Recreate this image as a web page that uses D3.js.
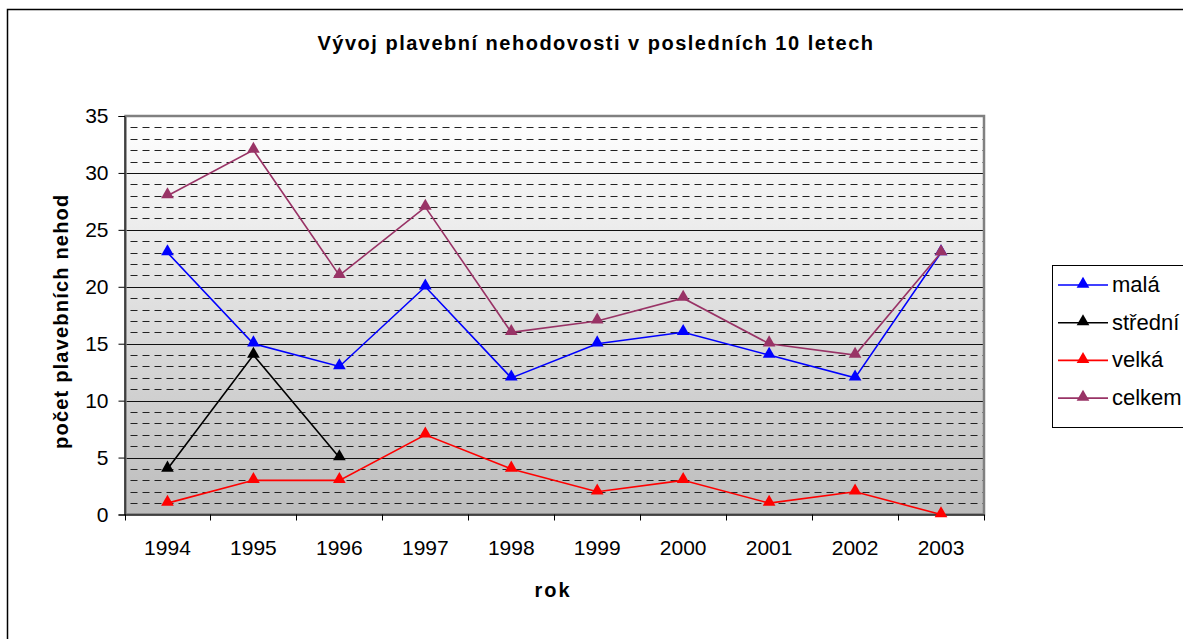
<!DOCTYPE html>
<html><head><meta charset="utf-8">
<script src="https://cdn.jsdelivr.net/npm/d3@7"></script>
<style>body{margin:0;background:#fff;} svg{display:block;font-family:"Liberation Sans",Arial,sans-serif;}</style>
</head><body>
<svg id="c" width="1183" height="639"></svg>
<script>
const years = ["1994","1995","1996","1997","1998","1999","2000","2001","2002","2003"];
const mala = [23,15,13,20,12,15,16,14,12,23];
const stredni = [4,14,5,null,null,null,null,null,null,null];
const velka = [1,3,3,7,4,2,3,1,2,0];
const celkem = [28,32,21,27,16,17,19,15,14,23];
const seriesNames = ["malá","střední","velká","celkem"];
const seriesColors = ["#0000ff","#000000","#ff0000","#993366"];
const yTicks = [0,5,10,15,20,25,30,35];
const title = "Vývoj plavební nehodovosti v posledních 10 letech";
const xTitle = "rok";
const yTitle = "počet plavebních nehod";

const series = [mala, stredni, velka, celkem];
const svg = d3.select("#c");
const L = 124.5, R = 984, T = 116, B = 514.5;

// outer border
svg.append("rect").attr("x",7.5).attr("y",9.5).attr("width",1300).attr("height",800)
  .attr("fill","#fff").attr("stroke","#000").attr("stroke-width",1.5);

const x = d3.scaleBand().domain(years).range([L,R]);
const y = d3.scaleLinear().domain([0,35]).range([B,T]);

const defs = svg.append("defs");
const g = defs.append("linearGradient").attr("id","bg").attr("x1",0).attr("y1",0).attr("x2",0).attr("y2",1);
g.append("stop").attr("offset","0%").attr("stop-color","#ffffff");
g.append("stop").attr("offset","100%").attr("stop-color","#bcbcbc");

svg.append("rect").attr("x",L).attr("y",T).attr("width",R-L).attr("height",B-T).attr("fill","url(#bg)");

// minor gridlines
const minor = d3.range(1,35).filter(v=>v%5!==0);
svg.append("g").selectAll("line").data(minor).join("line")
  .attr("x1",L+6).attr("x2",R).attr("y1",d=>Math.round(y(d))+0.5).attr("y2",d=>Math.round(y(d))+0.5)
  .attr("stroke","#222").attr("stroke-width",1).attr("stroke-dasharray","7,5");
// major gridlines
svg.append("g").selectAll("line").data(yTicks.filter(v=>v>0&&v<35)).join("line")
  .attr("x1",L).attr("x2",R).attr("y1",d=>Math.round(y(d))+0.5).attr("y2",d=>Math.round(y(d))+0.5)
  .attr("stroke","#111").attr("stroke-width",1);

// plot border (gray)
svg.append("rect").attr("x",L+1).attr("y",T).attr("width",R-L-1).attr("height",B-T)
  .attr("fill","none").attr("stroke","#808080").attr("stroke-width",2.5);

// axes
const yAxis = d3.axisLeft(y).tickValues(yTicks).tickSize(6).tickPadding(10);
const ya = svg.append("g").attr("transform",`translate(${L},0)`).call(yAxis);
const xAxis = d3.axisBottom(x).tickSize(0).tickPadding(26);
const xa = svg.append("g").attr("transform",`translate(0,${B})`).call(xAxis);
// category ticks between categories
svg.append("g").selectAll("line").data(d3.range(0,11)).join("line")
  .attr("x1",i=>Math.round(L + i*x.step())+0.5).attr("x2",i=>Math.round(L + i*x.step())+0.5)
  .attr("y1",B).attr("y2",B+6).attr("stroke","#000");
[ya,xa].forEach(a=>{
  a.select(".domain").attr("stroke","#000");
  a.selectAll(".tick line").attr("stroke","#000");
  a.selectAll("text").attr("font-size",21).attr("fill","#000").attr("font-family","Liberation Sans, Arial, sans-serif");
});
xa.select(".domain").attr("d",`M${L},0.5H${R}`);

// lines & markers
const line = d3.line().defined(d=>d!=null).x((d,i)=>x(years[i])+x.bandwidth()/2).y(d=>y(d));
const tri = d3.symbol().type(d3.symbolTriangle).size(70);
series.forEach((s,k)=>{
  svg.append("path").datum(s).attr("d",line).attr("fill","none")
    .attr("stroke",seriesColors[k]).attr("stroke-width",1.6);
  svg.append("g").selectAll("path").data(s.map((v,i)=>({v,i})).filter(d=>d.v!=null)).join("path")
    .attr("transform",d=>`translate(${x(years[d.i])+x.bandwidth()/2},${y(d.v)-1})`)
    .attr("d",tri).attr("fill",seriesColors[k]);
});

// titles
svg.append("text").attr("x",596).attr("y",50).attr("text-anchor","middle")
  .attr("font-size",20).attr("font-weight","bold").attr("letter-spacing",1.5).text(title);
svg.append("text").attr("x",553).attr("y",597).attr("text-anchor","middle")
  .attr("font-size",20).attr("font-weight","bold").attr("letter-spacing",2).text(xTitle);
svg.append("text").attr("transform",`translate(68,${(T+B)/2 + 6}) rotate(-90)`).attr("text-anchor","middle")
  .attr("font-size",20).attr("font-weight","bold").attr("letter-spacing",1.2).text(yTitle);

// legend
const lg = svg.append("g");
lg.append("rect").attr("x",1052.5).attr("y",265.5).attr("width",200).attr("height",162)
  .attr("fill","#fff").attr("stroke","#000").attr("stroke-width",1);
seriesNames.forEach((n,k)=>{
  const yy = 285 + k*37.7;
  lg.append("line").attr("x1",1058).attr("x2",1108).attr("y1",yy).attr("y2",yy)
    .attr("stroke",seriesColors[k]).attr("stroke-width",1.6);
  lg.append("path").attr("transform",`translate(1083,${yy-1})`).attr("d",tri).attr("fill",seriesColors[k]);
  lg.append("text").attr("x",1112).attr("y",yy+7).attr("font-size",22).text(n);
});
</script>
</body></html>
